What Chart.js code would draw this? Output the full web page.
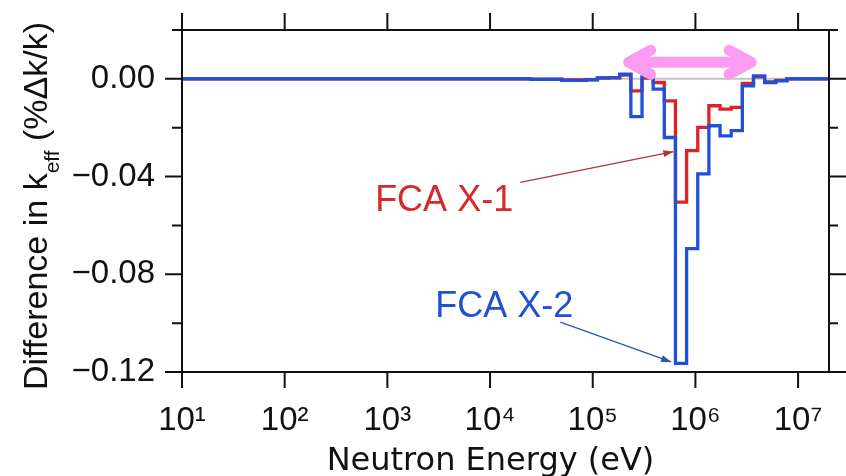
<!DOCTYPE html>
<html>
<head>
<meta charset="utf-8">
<script src="https://cdn.jsdelivr.net/npm/chart.js@4/dist/chart.umd.min.js"></script>
<style>
  html, body { margin: 0; padding: 0; background: #ffffff; }
  #wrap { width: 846px; height: 476px; position: relative; }
</style>
</head>
<body>
<div id="wrap"><canvas id="c" width="846" height="476"></canvas></div>
<script>
// ---- data ----
// energy group boundaries (eV), ascending
const energyEdges = [10, 2.5e4, 5.0e4, 8.652e4, 1.111e5, 1.426e5, 1.832e5, 2.352e5, 3.020e5, 3.877e5,
  4.979e5, 6.393e5, 8.209e5, 1.054e6, 1.353e6, 1.738e6, 2.231e6, 2.865e6, 3.679e6, 4.724e6,
  6.065e6, 7.788e6, 2e7];
// difference in keff (%dk/k) for each energy group (lower edge -> upper edge)
const fcaX1 = [0, -0.0001, -0.0004, -0.0003, 0.0003, 0.0004, 0.0015, -0.0049, 0.0003, -0.0015,
  -0.009, -0.0505, -0.0294, -0.0199, -0.011, -0.0124, -0.0117, -0.0019, 0.0008, -0.0012, -0.0006, 0];
const fcaX2 = [0, -0.0002, -0.0006, -0.0004, 0.0004, 0.0005, 0.0019, -0.0155, 0.0010, -0.0042,
  -0.024, -0.1165, -0.0695, -0.0389, -0.0192, -0.0233, -0.0212, -0.0029, 0.0012, -0.0015, -0.0008, 0];
// axis ticks
const xTickValues = [10, 100, 1e3, 1e4, 1e5, 1e6, 1e7];
const xTickLabels = ['10\u00B9', '10\u00B2', '10\u00B3', '10\u2074', '10\u2075', '10\u2076', '10\u2077'];
const yMajorValues = [0, -0.04, -0.08, -0.12];
const yMajorLabels = ['0.00', '\u22120.04', '\u22120.08', '\u22120.12'];
const yMinorValues = [0.02, -0.02, -0.06, -0.10];
const xTitle = 'Neutron Energy (eV)';
// annotations (data coordinates)
const label1 = { text: 'FCA X-1', x: 760, y: -0.054 };
const arrow1 = { x0: 1.97e4, y0: -0.0424, x1: 6.1e5, y1: -0.0298 };
const label2 = { text: 'FCA X-2', x: 2.93e3, y: -0.0976 };
const arrow2 = { x0: 4.83e4, y0: -0.0996, x1: 5.8e5, y1: -0.1159 };
const rangeArrow = { x0: 2.0e5, x1: 3.9e6, y: 0.0068 };

const FONT = '"Liberation Sans", Arial, sans-serif';
const WIDE = '"DejaVu Sans", "Liberation Sans", sans-serif';

function stepPoints(edges, vals) {
  const pts = vals.map((v, i) => ({ x: edges[i], y: v }));
  pts.push({ x: edges[edges.length - 1], y: vals[vals.length - 1] });
  return pts;
}

const decor = {
  id: 'decor',
  beforeDatasetsDraw(chart) {
    const { ctx, chartArea: a, scales: { y } } = chart;
    ctx.save();
    ctx.strokeStyle = '#c4c4c4';
    ctx.lineWidth = 2;
    const y0 = y.getPixelForValue(0);
    ctx.beginPath(); ctx.moveTo(a.left, y0); ctx.lineTo(a.right, y0); ctx.stroke();
    ctx.restore();
  },
  afterDatasetsDraw(chart) {
    const { ctx, chartArea: a, scales: { x, y } } = chart;
    ctx.save();
    // frame
    ctx.strokeStyle = '#111';
    ctx.lineWidth = 2;
    ctx.strokeRect(a.left, a.top, a.right - a.left, a.bottom - a.top);
    // x ticks (top and bottom, outward)
    ctx.beginPath();
    xTickValues.forEach(v => {
      const px = x.getPixelForValue(v);
      ctx.moveTo(px, a.top); ctx.lineTo(px, a.top - 17);
      ctx.moveTo(px, a.bottom); ctx.lineTo(px, a.bottom + 16);
    });
    yMajorValues.forEach(v => {
      const py = y.getPixelForValue(v);
      ctx.moveTo(a.left - 17, py); ctx.lineTo(a.left, py);
      ctx.moveTo(a.right, py); ctx.lineTo(a.right + 17, py);
    });
    yMinorValues.forEach(v => {
      const py = y.getPixelForValue(v);
      ctx.moveTo(a.left - 10, py); ctx.lineTo(a.left, py);
      ctx.moveTo(a.right, py); ctx.lineTo(a.right + 9, py);
    });
    ctx.stroke();

    // pink double arrow
    const px0 = x.getPixelForValue(rangeArrow.x0), px1 = x.getPixelForValue(rangeArrow.x1);
    const pyA = y.getPixelForValue(rangeArrow.y);
    ctx.strokeStyle = '#fb9cf2';
    ctx.lineCap = 'round';
    ctx.lineJoin = 'round';
    ctx.lineWidth = 11;
    ctx.beginPath();
    ctx.moveTo(px0 + 6, pyA); ctx.lineTo(px1 - 6, pyA);
    ctx.moveTo(px0 + 27, pyA - 12); ctx.lineTo(px0 + 5, pyA); ctx.lineTo(px0 + 27, pyA + 12);
    ctx.moveTo(px1 - 27, pyA - 12); ctx.lineTo(px1 - 5, pyA); ctx.lineTo(px1 - 27, pyA + 12);
    ctx.stroke();
    ctx.lineCap = 'butt';

    // annotation arrows
    function arrow(ar, color) {
      const x0 = x.getPixelForValue(ar.x0), y0 = y.getPixelForValue(ar.y0);
      const x1 = x.getPixelForValue(ar.x1), y1 = y.getPixelForValue(ar.y1);
      ctx.strokeStyle = color; ctx.fillStyle = color; ctx.lineWidth = 1.3;
      ctx.beginPath(); ctx.moveTo(x0, y0); ctx.lineTo(x1, y1); ctx.stroke();
      const ang = Math.atan2(y1 - y0, x1 - x0), L = 10, W = 3.5;
      ctx.beginPath();
      ctx.moveTo(x1, y1);
      ctx.lineTo(x1 - L * Math.cos(ang) + W * Math.sin(ang), y1 - L * Math.sin(ang) - W * Math.cos(ang));
      ctx.lineTo(x1 - L * Math.cos(ang) - W * Math.sin(ang), y1 - L * Math.sin(ang) + W * Math.cos(ang));
      ctx.closePath(); ctx.fill();
    }
    arrow(arrow1, '#b2343a');
    arrow(arrow2, '#2a56b8');

    // labels
    ctx.font = '36px ' + FONT;
    ctx.textAlign = 'left';
    ctx.textBaseline = 'alphabetic';
    ctx.fillStyle = '#d8282c';
    ctx.fillText(label1.text, x.getPixelForValue(label1.x), y.getPixelForValue(label1.y));
    ctx.fillStyle = '#2150d2';
    ctx.fillText(label2.text, x.getPixelForValue(label2.x), y.getPixelForValue(label2.y));

    // x title
    ctx.fillStyle = '#111';
    ctx.font = '32px ' + WIDE;
    ctx.textAlign = 'center';
    ctx.fillText(xTitle, (a.left + a.right) / 2 - 15, a.bottom + 98);

    // y title with subscript
    const parts = [
      { t: 'Difference in k', f: '34px ' + FONT, dy: 0 },
      { t: 'eff', f: '21px ' + FONT, dy: 12 },
      { t: ' (%\u0394k/k)', f: '34px ' + FONT, dy: 0 }
    ];
    let total = 0;
    parts.forEach(p => { ctx.font = p.f; p.w = ctx.measureText(p.t).width; total += p.w; });
    ctx.translate(47, (a.top + a.bottom) / 2 + 5);
    ctx.rotate(-Math.PI / 2);
    ctx.textAlign = 'left';
    let cx = -total / 2;
    parts.forEach(p => { ctx.font = p.f; ctx.fillText(p.t, cx, p.dy); cx += p.w; });
    ctx.restore();
  }
};

new Chart(document.getElementById('c'), {
  type: 'line',
  data: {
    datasets: [
      { label: 'FCA X-2', data: stepPoints(energyEdges, fcaX2), stepped: 'before',
        borderColor: '#1e50dc', borderWidth: 3.3, pointRadius: 0, fill: false },
      { label: 'FCA X-1', data: stepPoints(energyEdges, fcaX1), stepped: 'before',
        borderColor: '#de2228', borderWidth: 3.3, pointRadius: 0, fill: false }
    ]
  },
  options: {
    responsive: false,
    animation: false,
    layout: { padding: { left: 0, right: 17, top: 30, bottom: 0 } },
    plugins: { legend: { display: false }, tooltip: { enabled: false } },
    scales: {
      x: {
        type: 'logarithmic', position: 'bottom', min: 10, max: 2e7,
        afterBuildTicks: s => { s.ticks = xTickValues.map(v => ({ value: v })); },
        afterFit: s => { s.height = 104; s.paddingLeft = 0; s.paddingRight = 0; },
        grid: { display: false }, border: { display: false },
        ticks: {
          autoSkip: false, maxRotation: 0, padding: 21, color: '#111',
          font: { family: FONT, size: 33 },
          callback: (v) => xTickLabels[xTickValues.indexOf(v)] ?? ''
        }
      },
      y: {
        type: 'linear', min: -0.12, max: 0.02,
        afterBuildTicks: s => { s.ticks = yMajorValues.map(v => ({ value: v })); },
        afterFit: s => { s.width = 182; s.paddingTop = 0; s.paddingBottom = 0; },
        grid: { display: false }, border: { display: false },
        ticks: {
          padding: 19, color: '#111',
          font: { family: FONT, size: 33 },
          callback: (v) => { const i = yMajorValues.findIndex(m => Math.abs(m - v) < 1e-9); return i >= 0 ? yMajorLabels[i] : ''; }
        }
      }
    }
  },
  plugins: [decor]
});
</script>
</body>
</html>
